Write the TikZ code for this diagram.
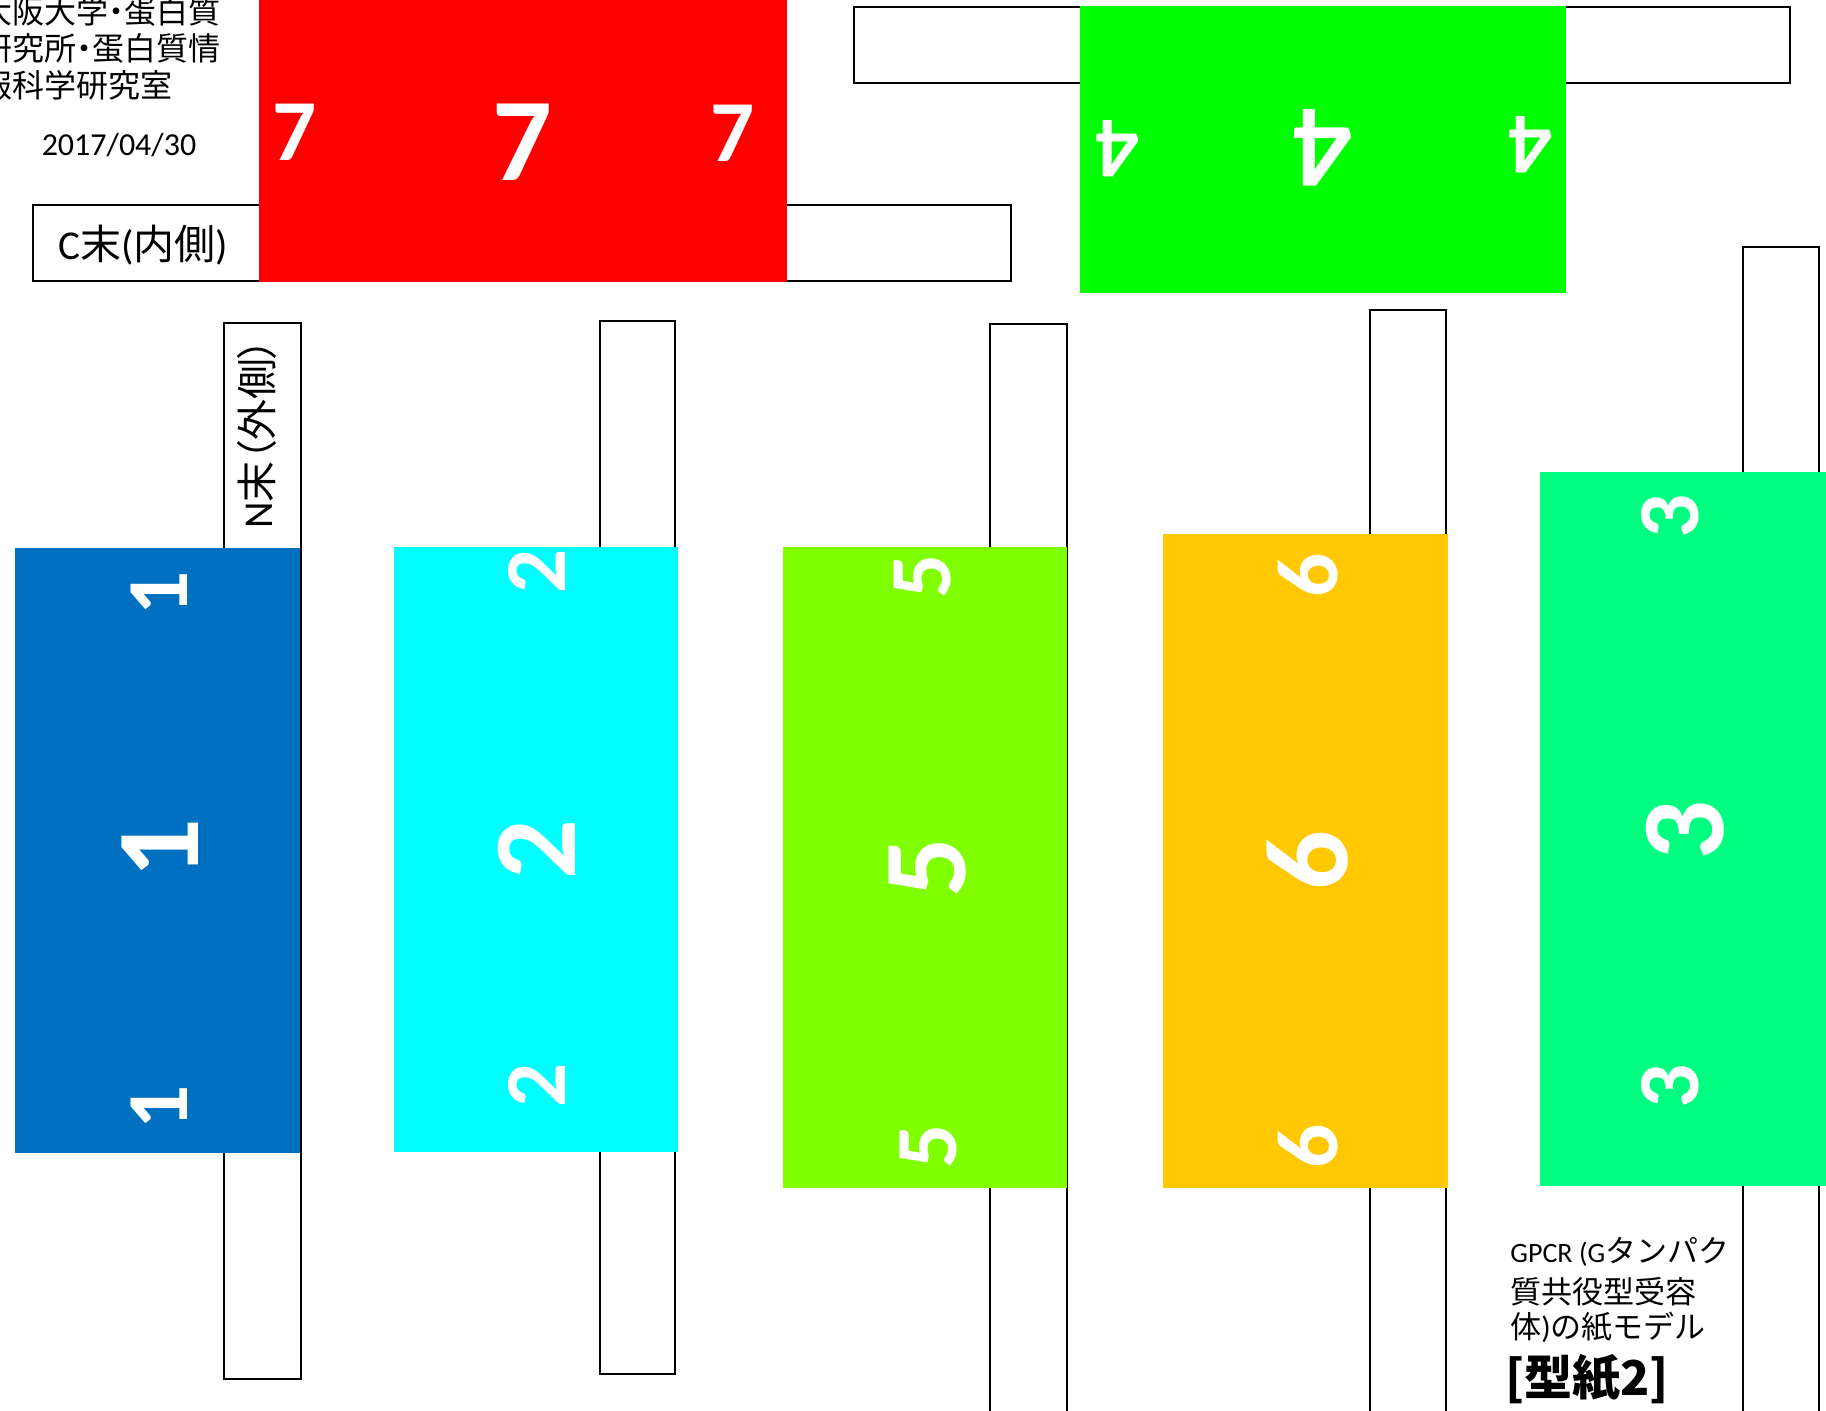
\documentclass[tikz,border=0pt]{standalone}
\usepackage{fontspec}
\newfontfamily\calfont{Carlito}
\newfontfamily\jpfont{Noto Sans CJK JP}
\newfontfamily\jppfont[RawFeature=+palt]{Noto Sans CJK JP}
\definecolor{cRed}{HTML}{FF0000}
\definecolor{cGreen}{HTML}{00FF00}
\definecolor{cBlue}{HTML}{0070C0}
\definecolor{cCyan}{HTML}{00FFFF}
\definecolor{cLime}{HTML}{80FF00}
\definecolor{cGold}{HTML}{FFC800}
\definecolor{cSpring}{HTML}{00FF80}
\tikzset{
  strip/.style={draw=black, line width=1pt, fill=white},
  dS/.style={text=white, inner sep=0pt, font=\calfont\bfseries\fontsize{43.5}{50}\selectfont},
  dL/.style={text=white, inner sep=0pt, font=\calfont\bfseries\fontsize{59}{66}\selectfont},
  otxt/.style={inner sep=0pt, anchor=base west, font=\jppfont\fontsize{16}{18}\selectfont},
  gtxt/.style={inner sep=0pt, anchor=base west, font=\jpfont\fontsize{15.5}{18}\selectfont},
}
\begin{document}
\begin{tikzpicture}[x=0.5pt,y=-0.5pt]
\useasboundingbox (0,0) rectangle (1826,1411);
\clip (0,0) rectangle (1826,1411);
% horizontal tabs
\draw[strip] (33,205.5) rectangle (1011,281.5);
\draw[strip] (854,7.5) rectangle (1790,83.5);
% vertical tabs
\draw[strip] (224,323) rectangle (301,1379);
\draw[strip] (600,321) rectangle (675,1374);
\draw[strip] (990,324) rectangle (1067,1430);
\draw[strip] (1370,310) rectangle (1446,1430);
\draw[strip] (1743,247) rectangle (1819,1430);
% coloured helices
\fill[cRed] (258.5,-2) rectangle (787,282.5);
\fill[cGreen] (1080,6.3) rectangle (1566,293);
\fill[cBlue] (15,548) rectangle (300,1153);
\fill[cCyan] (393.5,547) rectangle (678,1152);
\fill[cLime] (783,547) rectangle (1067,1188);
\fill[cGold] (1163,534) rectangle (1448,1188);
\fill[cSpring] (1540,472) rectangle (1830,1186);
% digits 7
\node[dS] (r7a) at (294.5,132.5) {7};
\node[dL] (r7b) at (522.5,142.5) {7};
\node[dS] (r7c) at (732.5,133.5) {7};
% digits 4
\node[dS, rotate=180] (g4a) at (1117,149) {4};
\node[dL, rotate=180] (g4b) at (1323,148) {4};
\node[dS, rotate=180] (g4c) at (1530.5,144.5) {4};
% digits 1
\node[dS, rotate=90] (b1a) at (159,593) {1};
\node[dL, rotate=90] (b1b) at (160,848.5) {1};
\node[dS, rotate=90] (b1c) at (159,1107) {1};
% digits 2
\node[dS, rotate=90] (c2a) at (537,571.5) {2};
\node[dL, rotate=90] (c2b) at (537,849.7) {2};
\node[dS, rotate=90] (c2c) at (537,1085) {2};
% digits 5
\node[dS, rotate=90] (l5a) at (923,576) {5};
\node[dL, rotate=90] (l5b) at (928,867.6) {5};
\node[dS, rotate=90] (l5c) at (929,1146) {5};
% digits 6
\node[dS, rotate=90] (o6a) at (1308.5,575.5) {6};
\node[dL, rotate=90] (o6b) at (1308,860.5) {6};
\node[dS, rotate=90] (o6c) at (1308.5,1146.7) {6};
% digits 3
\node[dS, rotate=90] (s3a) at (1670.5,516.5) {3};
\node[dL, rotate=90] (s3b) at (1685,830.5) {3};
\node[dS, rotate=90] (s3c) at (1670.5,1086.5) {3};
% organisation
\node[otxt] (org1) at (-20,24) {大阪大学・蛋白質};
\node[otxt] (org2) at (-20,61) {研究所・蛋白質情};
\node[otxt] (org3) at (-20,98) {報科学研究室};
\node[inner sep=0pt, font=\calfont\fontsize{16}{19}\selectfont] (date) at (119,145) {2017/04/30};
% termini
\node[inner sep=0pt, font=\fontsize{20.5}{24}\selectfont] (cterm) at (143.5,245)
  {{\calfont C}{\jpfont 末}{\calfont (}{\jpfont 内側}{\calfont )}};
\node[inner sep=0pt, rotate=90, font=\fontsize{20.5}{24}\selectfont] (nterm) at (257,433.5)
  {{\calfont N}{\jppfont 末（外側）}};
% title
\node[gtxt] (t1) at (1510,1262) {{\calfont\fontsize{14}{18}\selectfont GPCR (G}タンパク};
\node[gtxt] (t2) at (1510,1303) {質共役型受容};
\node[gtxt] (t3) at (1510,1338) {体{\calfont )}の紙モデル};
\node[gtxt, font=\jpfont\bfseries\fontsize{24}{28}\selectfont] (t4) at (1505,1395) {[型紙2]};
\end{tikzpicture}
\end{document}
